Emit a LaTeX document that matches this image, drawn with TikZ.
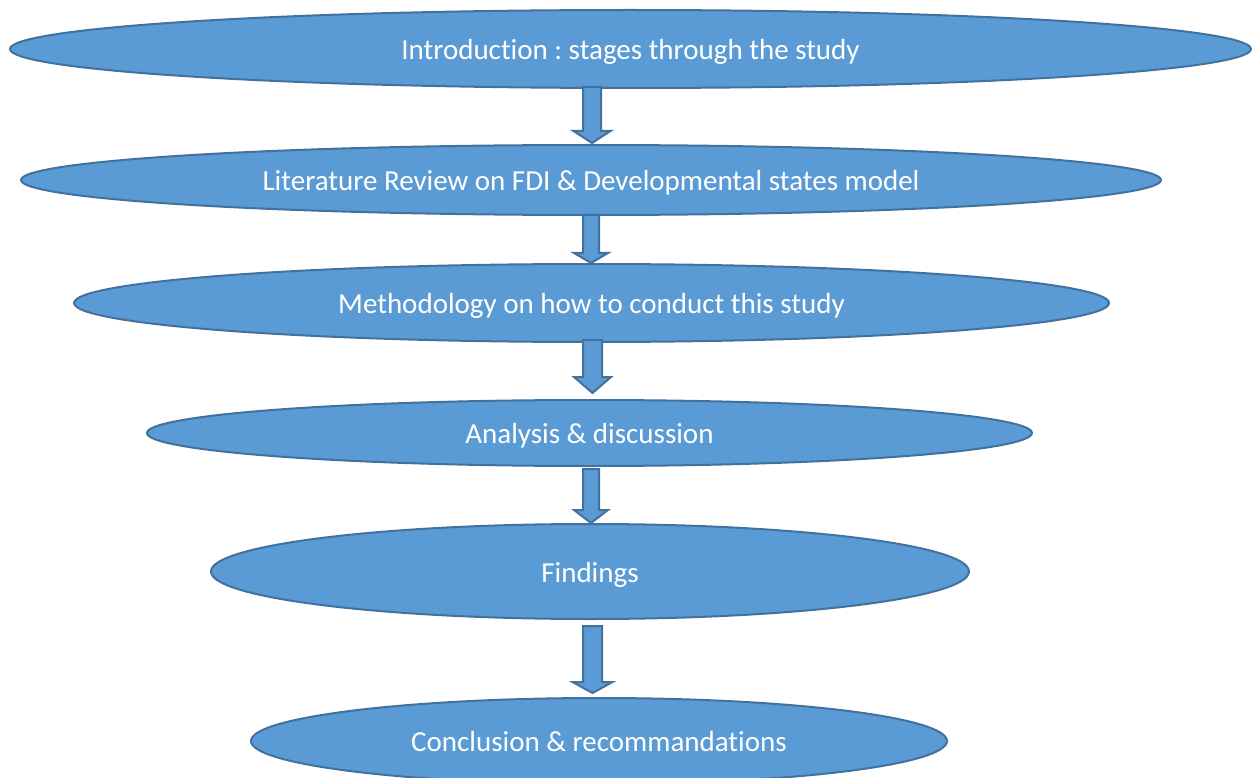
\documentclass[tikz,border=0pt]{standalone}
\usepackage{fontspec}
\setmainfont{Carlito}[Ligatures={NoCommon,NoContextual,NoRare}]
\usetikzlibrary{shapes.geometric,calc}
\definecolor{ofill}{HTML}{5B9BD5}
\definecolor{oline}{HTML}{41719C}
\frenchspacing
\tikzset{
  stage/.style={ellipse, draw=oline, fill=ofill, line width=2pt, inner sep=0pt,
    text=white, font=\fontsize{29}{34}\selectfont, text height=21pt, text depth=0pt},
  blockarrow/.style={draw=oline, fill=ofill, line width=2pt, line join=miter}
}
% #1 top coordinate, #2 tip coordinate, #3 shaft half width, #4 head half width, #5 head length
\newcommand{\myblockarrow}[5]{%
  \path[blockarrow] let \p1=(#1), \p2=(#2) in
    (\x1-#3,\y1) -- (\x1-#3,\y2+#5) -- (\x1-#4,\y2+#5) -- (\x1,\y2)
    -- (\x1+#4,\y2+#5) -- (\x1+#3,\y2+#5) -- (\x1+#3,\y1) -- cycle;
}
\begin{document}
\begin{tikzpicture}[x=1pt,y=-1pt]
\useasboundingbox (0,0) rectangle (1253,778);
\node[stage, minimum width=1241pt, minimum height=78pt] (e1) at (630.5,49) {Introduction : stages through the study};
\node[stage, minimum width=1140pt, minimum height=70pt] (e2) at (591,180) {Literature Review on FDI \& Developmental states model};
\node[stage, minimum width=1035pt, minimum height=78pt] (e3) at (591.5,303) {Methodology on how to conduct this study};
\node[stage, minimum width=885pt, minimum height=66pt] (e4) at (589.5,433) {Analysis \& discussion};
\node[stage, minimum width=758pt, minimum height=95pt] (e5) at (590,571.5) {Findings};
\node[stage, minimum width=696pt, minimum height=86pt] (e6) at (599,741) {Conclusion \& recommandat\kern0pt ions};
% arrow end points
\coordinate (a1s) at (592,87);   \coordinate (a1e) at (592,143);
\coordinate (a2s) at (591,215);  \coordinate (a2e) at (591,263);
\coordinate (a3s) at (592.5,340);\coordinate (a3e) at (592.5,393);
\coordinate (a4s) at (591,469);  \coordinate (a4e) at (591,523);
\coordinate (a5s) at (592.5,626);\coordinate (a5e) at (592.5,693);
\myblockarrow{a1s}{a1e}{9pt}{18.5pt}{12pt}
\myblockarrow{a2s}{a2e}{8pt}{17pt}{10pt}
\myblockarrow{a3s}{a3e}{9.5pt}{18.5pt}{16pt}
\myblockarrow{a4s}{a4e}{8pt}{17pt}{13pt}
\myblockarrow{a5s}{a5e}{9.5pt}{20pt}{11pt}
\end{tikzpicture}
\end{document}
